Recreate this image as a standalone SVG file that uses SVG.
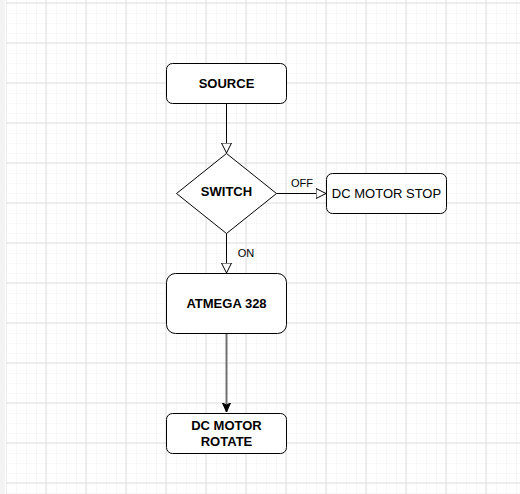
<svg xmlns="http://www.w3.org/2000/svg" width="520" height="494" viewBox="0 0 520 494">
  <defs>
    <pattern id="minor" x="6" y="3" width="10" height="10" patternUnits="userSpaceOnUse">
      <path d="M0 0H10M0 0V10" fill="none" stroke="#f1f1f1" stroke-width="1"/>
    </pattern>
    <pattern id="major" x="5.5" y="2.5" width="40" height="40" patternUnits="userSpaceOnUse">
      <path d="M0 0.5H40M0.5 0V40" fill="none" stroke="#dedede" stroke-width="1"/>
    </pattern>
    <marker id="open" markerWidth="12" markerHeight="12" viewBox="0 0 12 12" refX="10.5" refY="6" orient="auto" markerUnits="userSpaceOnUse">
      <path d="M0.5 1L10.5 6L0.5 11Z" fill="#ffffff" stroke="#000000" stroke-width="1"/>
    </marker>
    <marker id="solid" markerWidth="10" markerHeight="10" viewBox="0 0 10 10" refX="9" refY="5" orient="auto" markerUnits="userSpaceOnUse">
      <path d="M0 1L9 5L0 9L2 5Z" fill="#000000" stroke="#000000" stroke-width="1"/>
    </marker>
    <style>
      .box{fill:#ffffff;stroke:#000000;stroke-width:1}
      .lbl{font-family:"Liberation Sans",Arial,sans-serif;font-size:13px;font-weight:bold;fill:#000000;text-anchor:middle;dominant-baseline:central}
      .lbln{font-family:"Liberation Sans",Arial,sans-serif;font-size:13px;fill:#000000;text-anchor:middle;dominant-baseline:central}
      .elbl{font-family:"Liberation Sans",Arial,sans-serif;font-size:11px;fill:#000000;text-anchor:middle;dominant-baseline:central}
      .edge{fill:none;stroke:#000000;stroke-width:1}
    </style>
  </defs>
  <rect x="0" y="0" width="520" height="494" fill="#ffffff"/>
  <rect x="6" y="0" width="514" height="494" fill="url(#minor)"/>
  <rect x="6" y="0" width="514" height="494" fill="url(#major)"/>
  <rect x="0" y="0" width="5" height="494" fill="#f3f3f3"/>

  <g id="connectors">
    <path class="edge" d="M226.5 103.5V153" marker-end="url(#open)"/>
    <path class="edge" d="M226.5 233.5V273" marker-end="url(#open)"/>
    <text class="elbl" x="246" y="253">ON</text>
    <path class="edge" d="M276.5 193.5H326" marker-end="url(#open)"/>
    <text class="elbl" x="302" y="183">OFF</text>
    <path d="M226.5 333.5V412" fill="none" stroke="#707070" stroke-width="2" marker-end="url(#solid)"/>
  </g>

  <g id="source">
    <rect class="box" x="166.5" y="63.5" width="120" height="40" rx="6"/>
    <text class="lbl" x="226.5" y="83.5">SOURCE</text>
  </g>
  <g id="switch">
    <path class="box" d="M226.5 153.5L276.5 193.5L226.5 233.5L176.5 193.5Z"/>
    <text class="lbl" x="226.5" y="191.5">SWITCH</text>
  </g>
  <g id="dc-motor-stop">
    <rect class="box" x="326.5" y="173.5" width="120" height="40" rx="6"/>
    <text class="lbln" x="386.5" y="193.5">DC MOTOR STOP</text>
  </g>
  <g id="atmega">
    <rect class="box" x="166.5" y="273.5" width="120" height="60" rx="9"/>
    <text class="lbl" x="226.5" y="303.5">ATMEGA 328</text>
  </g>
  <g id="dc-motor-rotate">
    <rect class="box" x="166.5" y="413.5" width="120" height="40" rx="6"/>
    <text class="lbl" x="226.5" y="425.5">DC MOTOR</text>
    <text class="lbl" x="226.5" y="441.5">ROTATE</text>
  </g>
</svg>
